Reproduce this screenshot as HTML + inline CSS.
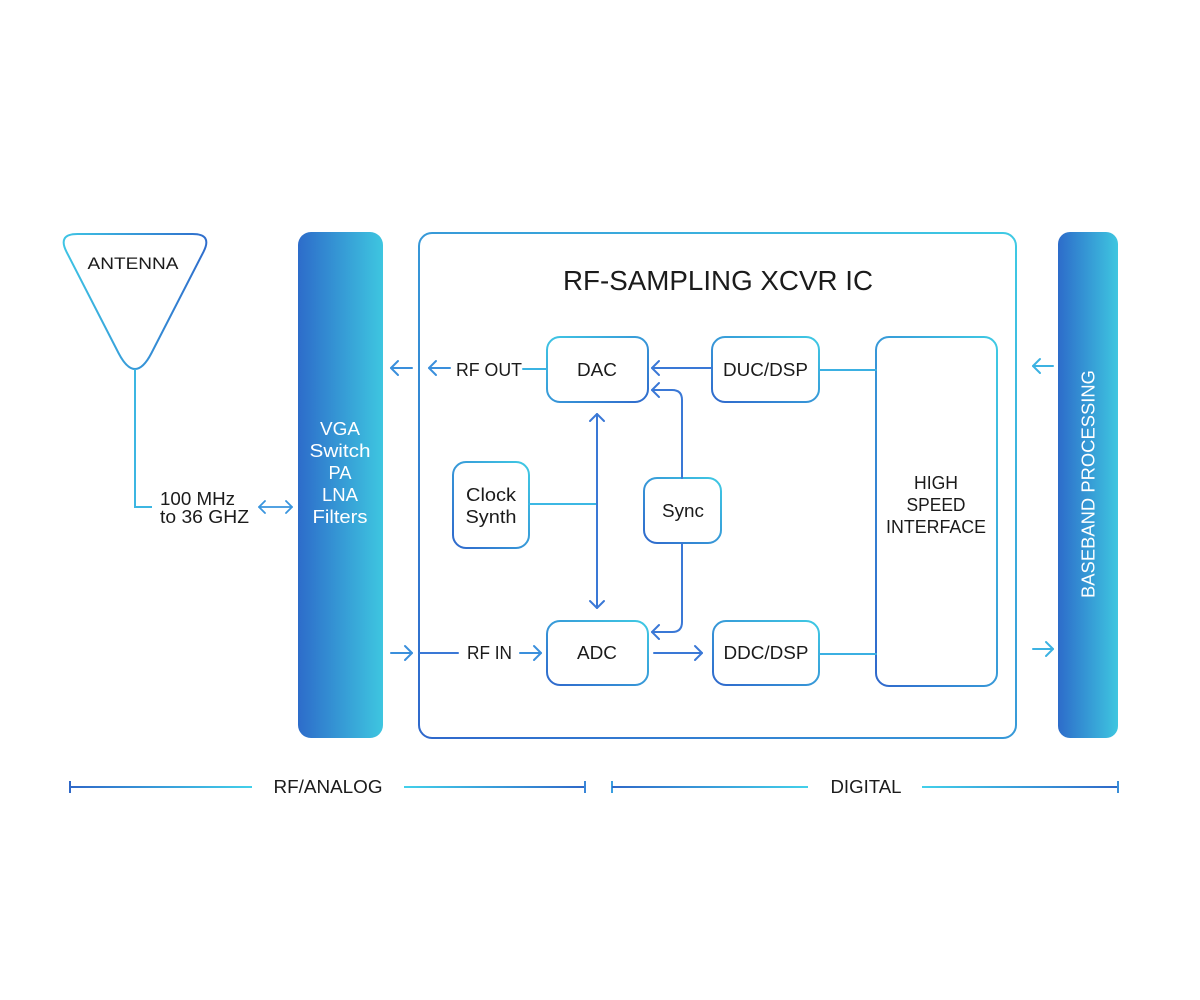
<!DOCTYPE html>
<html>
<head>
<meta charset="utf-8">
<style>
  html,body{margin:0;padding:0;background:#fff;}
  svg{display:block;}
  text{font-family:"Liberation Sans", Arial, sans-serif; fill:#1b1b1b;}
</style>
</head>
<body>
<svg width="1200" height="1000" viewBox="0 0 1200 1000" xmlns="http://www.w3.org/2000/svg">
  <defs>
    <linearGradient id="gBar" x1="0" y1="0" x2="1" y2="0">
      <stop offset="0" stop-color="#2d6cca"/>
      <stop offset="1" stop-color="#3ec6e0"/>
    </linearGradient>
    <linearGradient id="gBox" x1="0" y1="1" x2="1" y2="0">
      <stop offset="0" stop-color="#2f68cc"/>
      <stop offset="1" stop-color="#3fcae4"/>
    </linearGradient>
    <linearGradient id="gBox2" x1="0" y1="0" x2="1" y2="1">
      <stop offset="0" stop-color="#3fc6e4"/>
      <stop offset="1" stop-color="#2f6acc"/>
    </linearGradient>
    <linearGradient id="gTri" x1="0" y1="0" x2="1" y2="0">
      <stop offset="0" stop-color="#3ec4e4"/>
      <stop offset="1" stop-color="#2f6dcc"/>
    </linearGradient>
    <linearGradient id="gLR" gradientUnits="userSpaceOnUse" x1="70" y1="0" x2="252" y2="0">
      <stop offset="0" stop-color="#2f68c8"/>
      <stop offset="1" stop-color="#42d0ea"/>
    </linearGradient>
    <linearGradient id="gRL" gradientUnits="userSpaceOnUse" x1="404" y1="0" x2="585" y2="0">
      <stop offset="0" stop-color="#42d0ea"/>
      <stop offset="1" stop-color="#2f68c8"/>
    </linearGradient>
    <linearGradient id="gLR2" gradientUnits="userSpaceOnUse" x1="612" y1="0" x2="808" y2="0">
      <stop offset="0" stop-color="#2f68c8"/>
      <stop offset="1" stop-color="#42d0ea"/>
    </linearGradient>
    <linearGradient id="gRL2" gradientUnits="userSpaceOnUse" x1="922" y1="0" x2="1118" y2="0">
      <stop offset="0" stop-color="#42d0ea"/>
      <stop offset="1" stop-color="#2f68c8"/>
    </linearGradient>
  </defs>

  <!-- Antenna -->
  <path d="M77.4,234 L192.6,234 Q212.6,234 203.5,251.8 L151.5,353 Q135,385 118.5,353 L66.5,251.8 Q57.4,234 77.4,234 Z"
        fill="none" stroke="url(#gTri)" stroke-width="2"/>
  <text x="133" y="269" font-size="17" text-anchor="middle" textLength="91" lengthAdjust="spacingAndGlyphs">ANTENNA</text>
  <path d="M135,369 V507 H152" fill="none" stroke="#3cb6e2" stroke-width="2"/>
  <text x="160" y="505" font-size="18" textLength="75" lengthAdjust="spacingAndGlyphs">100 MHz</text>
  <text x="160" y="523" font-size="18" textLength="89" lengthAdjust="spacingAndGlyphs">to 36 GHZ</text>
  <!-- double arrow -->
  <g fill="none" stroke="#3a95de" stroke-width="1.8" stroke-linecap="round" stroke-linejoin="round">
    <path d="M259,507 H292"/>
    <path d="M265,501 L259,507 L265,513"/>
    <path d="M286,501 L292,507 L286,513"/>
  </g>

  <!-- VGA bar -->
  <rect x="298" y="232" width="85" height="506" rx="13" fill="url(#gBar)"/>
  <g font-size="18" text-anchor="middle">
    <text x="340" y="435" style="fill:#fff" textLength="40" lengthAdjust="spacingAndGlyphs">VGA</text>
    <text x="340" y="457" style="fill:#fff" textLength="61" lengthAdjust="spacingAndGlyphs">Switch</text>
    <text x="340" y="479" style="fill:#fff" textLength="23" lengthAdjust="spacingAndGlyphs">PA</text>
    <text x="340" y="501" style="fill:#fff" textLength="36" lengthAdjust="spacingAndGlyphs">LNA</text>
    <text x="340" y="523" style="fill:#fff" textLength="55" lengthAdjust="spacingAndGlyphs">Filters</text>
  </g>

  <!-- IC box -->
  <rect x="419" y="233" width="597" height="505" rx="13" fill="none" stroke="url(#gBox)" stroke-width="2"/>
  <text x="718" y="290" font-size="28" text-anchor="middle" textLength="310" lengthAdjust="spacingAndGlyphs">RF-SAMPLING XCVR IC</text>

  <!-- inner boxes -->
  <g fill="none" stroke-width="2">
    <rect x="547" y="337" width="101" height="65" rx="13" stroke="url(#gBox2)"/>
    <rect x="712" y="337" width="107" height="65" rx="13" stroke="url(#gBox)"/>
    <rect x="453" y="462" width="76" height="86" rx="13" stroke="url(#gBox)"/>
    <rect x="644" y="478" width="77" height="65" rx="13" stroke="url(#gBox)"/>
    <rect x="547" y="621" width="101" height="64" rx="13" stroke="url(#gBox)"/>
    <rect x="713" y="621" width="106" height="64" rx="13" stroke="url(#gBox)"/>
    <rect x="876" y="337" width="121" height="349" rx="13" stroke="url(#gBox)"/>
  </g>
  <g font-size="18" text-anchor="middle">
    <text x="597" y="376" textLength="40" lengthAdjust="spacingAndGlyphs">DAC</text>
    <text x="765.5" y="376" textLength="85" lengthAdjust="spacingAndGlyphs">DUC/DSP</text>
    <text x="491" y="501" textLength="50" lengthAdjust="spacingAndGlyphs">Clock</text>
    <text x="491" y="523" textLength="51" lengthAdjust="spacingAndGlyphs">Synth</text>
    <text x="683" y="517" textLength="42" lengthAdjust="spacingAndGlyphs">Sync</text>
    <text x="597" y="659" textLength="40" lengthAdjust="spacingAndGlyphs">ADC</text>
    <text x="766" y="659" textLength="85" lengthAdjust="spacingAndGlyphs">DDC/DSP</text>
    <text x="936" y="489" textLength="44" lengthAdjust="spacingAndGlyphs">HIGH</text>
    <text x="936" y="511" textLength="59" lengthAdjust="spacingAndGlyphs">SPEED</text>
    <text x="936" y="533" textLength="100" lengthAdjust="spacingAndGlyphs">INTERFACE</text>
  </g>
  <text x="456" y="376" font-size="18" textLength="66" lengthAdjust="spacingAndGlyphs">RF OUT</text>
  <text x="467" y="659" font-size="18" textLength="45" lengthAdjust="spacingAndGlyphs">RF IN</text>

  <!-- connectors -->
  <g fill="none" stroke="#3a78d6" stroke-width="2" stroke-linecap="round" stroke-linejoin="round">
    <path d="M523,369 H547" stroke="#3bb3e2"/>
    <path d="M391,368 H412" stroke="#3a8fdc"/>
    <path d="M398,361 L391,368 L398,375" stroke="#3a8fdc"/>
    <path d="M429,368 H450" stroke="#3a8fdc"/>
    <path d="M436,361 L429,368 L436,375" stroke="#3a8fdc"/>
    <path d="M712,368 H652"/>
    <path d="M659,361 L652,368 L659,375"/>
    <path d="M682,478 V400 Q682,390 672,390 H652"/>
    <path d="M659,383 L652,390 L659,397"/>
    <path d="M682,543 V622 Q682,632 672,632 H652"/>
    <path d="M659,625 L652,632 L659,639"/>
    <path d="M529,504 H597" stroke="#3cb8e4"/>
    <path d="M597,414 V608"/>
    <path d="M590,421 L597,414 L604,421"/>
    <path d="M590,601 L597,608 L604,601"/>
    <path d="M420,653 H458"/>
    <path d="M520,653 H541" stroke="#3a8fdc"/>
    <path d="M534,646 L541,653 L534,660" stroke="#3a8fdc"/>
    <path d="M391,653 H412" stroke="#3a8fdc"/>
    <path d="M405,646 L412,653 L405,660" stroke="#3a8fdc"/>
    <path d="M654,653 H702"/>
    <path d="M695,646 L702,653 L695,660"/>
    <path d="M819,370 H876" stroke="#3bb0e2"/>
    <path d="M819,654 H876" stroke="#3bb0e2"/>
    <path d="M1033,366 H1053" stroke="#3cb2e2"/>
    <path d="M1040,359 L1033,366 L1040,373" stroke="#3cb2e2"/>
    <path d="M1033,649 H1053" stroke="#3cb2e2"/>
    <path d="M1046,642 L1053,649 L1046,656" stroke="#3cb2e2"/>
  </g>

  <!-- Baseband bar -->
  <rect x="1058" y="232" width="60" height="506" rx="12" fill="url(#gBar)"/>
  <text x="0" y="0" font-size="18" text-anchor="middle" transform="translate(1094.5,484) rotate(-90)" style="fill:#fff" textLength="228" lengthAdjust="spacingAndGlyphs">BASEBAND PROCESSING</text>

  <!-- bottom scales -->
  <g stroke-width="2" fill="none">
    <path d="M70,781 V793" stroke="#2f68c8"/>
    <path d="M70,787 H252" stroke="url(#gLR)"/>
    <path d="M404,787 H585" stroke="url(#gRL)"/>
    <path d="M585,781 V793" stroke="#3a86d8"/>
    <path d="M612,781 V793" stroke="#3a9ee0"/>
    <path d="M612,787 H808" stroke="url(#gLR2)"/>
    <path d="M922,787 H1118" stroke="url(#gRL2)"/>
    <path d="M1118,781 V793" stroke="#3a8ed8"/>
  </g>
  <text x="328" y="793" font-size="18" text-anchor="middle" textLength="109" lengthAdjust="spacingAndGlyphs">RF/ANALOG</text>
  <text x="866" y="793" font-size="18" text-anchor="middle" textLength="71" lengthAdjust="spacingAndGlyphs">DIGITAL</text>
</svg>
</body>
</html>
